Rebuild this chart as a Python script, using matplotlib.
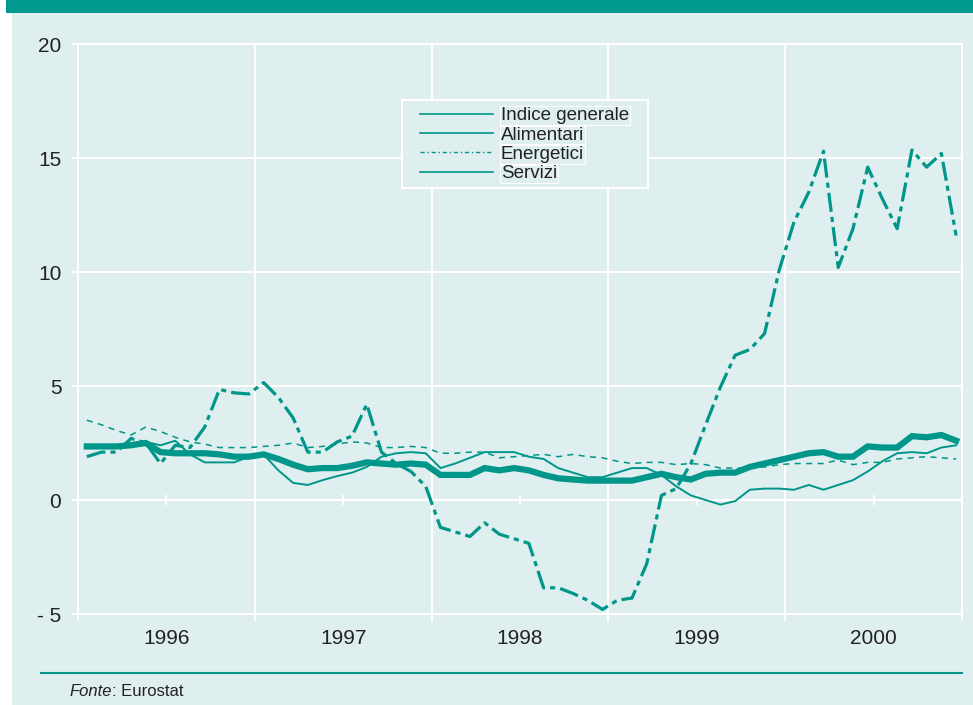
import matplotlib.pyplot as plt
from matplotlib.lines import Line2D
from matplotlib.patches import Rectangle

# monthly data, Jan 1996 - Dec 2000 (% change on a year earlier)
months = list(range(60))
indice_generale = [2.35, 2.35, 2.35, 2.4, 2.5, 2.1, 2.05, 2.05, 2.05, 2.0, 1.9, 1.9,
                   2.0, 1.8, 1.55, 1.35, 1.4, 1.4, 1.5, 1.65, 1.6, 1.55, 1.6, 1.55,
                   1.1, 1.1, 1.1, 1.4, 1.3, 1.4, 1.3, 1.1, 0.95, 0.9, 0.85, 0.85,
                   0.85, 0.85, 1.0, 1.15, 1.0, 0.9, 1.15, 1.2, 1.2, 1.45, 1.6, 1.75,
                   1.9, 2.05, 2.1, 1.9, 1.9, 2.35, 2.3, 2.3, 2.8, 2.75, 2.85, 2.6]
alimentari = [2.3, 2.35, 2.4, 2.5, 2.55, 2.4, 2.6, 2.0, 1.65, 1.65, 1.65, 1.9,
              2.0, 1.3, 0.75, 0.66, 0.87, 1.05, 1.2, 1.45, 1.9, 2.05, 2.1, 2.05,
              1.4, 1.6, 1.85, 2.1, 2.1, 2.1, 1.9, 1.8, 1.4, 1.2, 1.0, 1.0,
              1.2, 1.4, 1.4, 1.1, 0.6, 0.2, 0.0, -0.2, -0.05, 0.45, 0.5, 0.5,
              0.45, 0.66, 0.45, 0.66, 0.87, 1.25, 1.7, 2.05, 2.1, 2.05, 2.3, 2.4]
energetici = [1.9, 2.1, 2.1, 2.7, 2.5, 1.6, 2.4, 2.3, 3.2, 4.85, 4.7, 4.65,
              5.15, 4.5, 3.6, 2.1, 2.1, 2.55, 2.8, 4.2, 2.1, 1.6, 1.25, 0.6,
              -1.2, -1.4, -1.6, -1.0, -1.5, -1.7, -1.9, -3.85, -3.85, -4.1, -4.4, -4.8,
              -4.4, -4.3, -2.8, 0.2, 0.5, 1.6, 3.3, 4.95, 6.35, 6.6, 7.3, 10.1,
              12.2, 13.5, 15.3, 10.2, 11.9, 14.6, 13.2, 11.9, 15.35, 14.6, 15.2, 11.6]
servizi = [3.5, 3.3, 3.05, 2.85, 3.2, 3.0, 2.75, 2.55, 2.45, 2.3, 2.3, 2.3,
           2.35, 2.4, 2.5, 2.3, 2.35, 2.45, 2.55, 2.5, 2.3, 2.3, 2.35, 2.3,
           2.05, 2.05, 2.1, 2.1, 1.85, 1.9, 1.95, 2.0, 1.9, 2.0, 1.9, 1.85,
           1.7, 1.6, 1.65, 1.65, 1.55, 1.6, 1.55, 1.4, 1.4, 1.4, 1.45, 1.55,
           1.6, 1.6, 1.6, 1.75, 1.55, 1.65, 1.65, 1.8, 1.85, 1.9, 1.85, 1.8]

years = [1996, 1997, 1998, 1999, 2000]
y_ticks = [-5, 0, 5, 10, 15, 20]
y_tick_labels = ['- 5', '0', '5', '10', '15', '20']

teal = '#00968A'
bg = '#DFEEEE'
txt = '#222222'
plt.rcParams['font.family'] = ['Liberation Sans', 'DejaVu Sans']

t = [years[0] + (m + 0.6) / 12 for m in months]

fig = plt.figure(figsize=(9.73, 7.05), dpi=100)
fig.patches.append(Rectangle((12 / 973, 0), 1, 1, transform=fig.transFigure,
                             facecolor=bg, edgecolor='none', zorder=-10))
fig.patches.append(Rectangle((6 / 973, 1 - 13 / 705), 1, 13 / 705, transform=fig.transFigure,
                             facecolor='#009A8F', edgecolor='none', zorder=-9))

ax = fig.add_axes([78 / 973, 1 - 614 / 705, 884 / 973, 570 / 705])
ax.set_facecolor(bg)

ax.plot(t, servizi, color=teal, lw=1.1, ls=(0, (4, 3.5)), zorder=3)
ax.plot(t, alimentari, color=teal, lw=1.4, zorder=4)
ax.plot(t, energetici, color=teal, lw=2.3, ls=(0, (6, 1.6, 1.6, 1.6)), zorder=5)
ax.plot(t, indice_generale, color=teal, lw=4.5, solid_joinstyle='miter', zorder=6)

ax.set_xlim(years[0], years[-1] + 1)
ax.set_ylim(y_ticks[0], y_ticks[-1])
ax.set_yticks(y_ticks)
ax.set_yticklabels(y_tick_labels)
ax.set_xticks(years + [years[-1] + 1])
ax.set_xticklabels([])
ax.set_xticks([y + 0.5 for y in years], minor=True)
ax.set_xticklabels([str(y) for y in years], minor=True)
ax.tick_params(axis='x', which='major', length=5, width=1.5, color='white')
ax.tick_params(axis='x', which='minor', length=0, pad=11, labelsize=15, labelcolor=txt)
ax.tick_params(axis='y', length=4, width=1.5, color='white', pad=8, labelsize=15, labelcolor=txt)
ax.grid(True, which='major', color='white', lw=1.5, zorder=1)
for s in ax.spines.values():
    s.set_color('white')
    s.set_linewidth(1.5)

# small marks on the zero line at mid-year
ax.plot([y + 0.5 for y in years], [0] * len(years), ls='none', marker='|',
        ms=7, mew=1.5, color='white', zorder=2)

# legend
ax.add_patch(Rectangle(((402 - 78) / 884, (614 - 188) / 570), 246 / 884, 88 / 570,
                       transform=ax.transAxes, facecolor=bg, edgecolor='white',
                       lw=1.5, zorder=7))
handles = [Line2D([], [], color=teal, lw=1.2),
           Line2D([], [], color=teal, lw=1.2),
           Line2D([], [], color=teal, lw=1.0, ls=(0, (3, 2, 1, 2))),
           Line2D([], [], color=teal, lw=1.2)]
labels = ['Indice generale', 'Alimentari', 'Energetici', 'Servizi']
leg = ax.legend(handles, labels, loc='upper left', frameon=False,
                bbox_to_anchor=((420 - 78) / 884, (614 - 107) / 570),
                borderpad=0, borderaxespad=0, handlelength=3.9, handletextpad=0.4,
                labelspacing=0.12, fontsize=13.5)
leg.set_zorder(8)
for tx in leg.get_texts():
    tx.set_color(txt)
    tx.set_bbox(dict(facecolor=bg, edgecolor='white', lw=0.8, pad=0.6))

# footer
fig.add_artist(Line2D([41 / 973, 962 / 973], [1 - 673 / 705] * 2, color=teal, lw=1.5))
f1 = fig.text(69 / 973, 1 - 692 / 705, 'Fonte', style='italic', fontsize=12,
              color=txt, va='center')
fig.canvas.draw()
bb = f1.get_window_extent()
fig.text(bb.x1 / fig.bbox.width, 1 - 692 / 705, ': Eurostat', fontsize=12,
         color=txt, va='center')

fig.savefig('out.png', dpi=100, facecolor='white')
